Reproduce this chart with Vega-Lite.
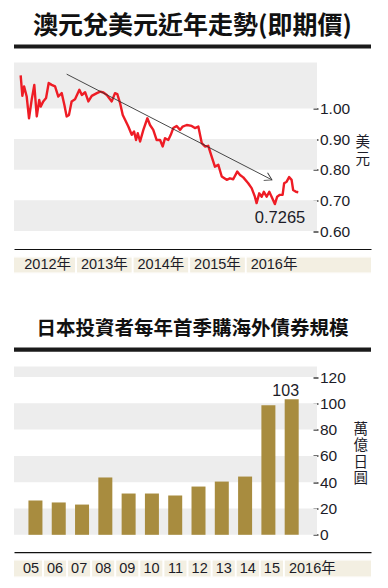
{
  "$schema": "https://vega.github.io/schema/vega-lite/v6.json",
  "padding": {"left": 14, "top": 13.5, "right": 17, "bottom": 8},
  "autosize": {"type": "pad"},
  "background": "white",
  "config": {"view": {"stroke": null}, "axis": {"labelOverlap": false}},
  "bounds": "flush",
  "spacing": 14,
  "vconcat": [
    {
      "width": 357, "height": 4,
      "title": {"text": "澳元兌美元近年走勢(即期價)", "font": "Noto Sans CJK TC", "fontSize": 25, "fontWeight": "bold", "color": "#111111", "anchor": "middle", "offset": 6},
      "data": {"values": [{"bar": "title"}]},
      "mark": {"type": "rect", "color": "#1a1a1a"},
      "encoding": {}
    },
    {
      "width": 303, "height": 180,
      "layer": [
        {
          "data": {"values": [{"lo": 0.6, "hi": 0.7}, {"lo": 0.8, "hi": 0.9}, {"lo": 1.0, "hi": 1.15}]},
          "mark": {"type": "rect", "color": "#ededed"},
          "encoding": {
            "y": {"field": "lo", "type": "quantitative", "scale": {"domain": [0.5625, 1.15], "nice": false, "zero": false},
              "axis": {"orient": "right", "offset": -4, "values": [0.6, 0.7, 0.8, 0.9, 1.0], "format": ".2f", "domain": false, "grid": false,
                "ticks": true, "tickSize": 5, "tickWidth": 1.3, "tickColor": "#222222", "labelOverlap": false,
                "labelFont": "Liberation Sans", "labelFontSize": 15.5, "labelColor": "#1c1c28", "labelPadding": 1.5,
                "title": ["美", "元"], "titleAngle": 0, "titleFont": "Noto Sans CJK TC", "titleFontSize": 14.5, "titleFontWeight": "normal",
                "titleColor": "#1c1c28", "titleAlign": "left", "titleBaseline": "middle", "titleX": 42, "titleY": 80.3, "titleLineHeight": 16.5}},
            "y2": {"field": "hi"}
          }
        },
        {
          "data": {"values": [
            {"date": "2012-01-09", "value": 1.108}, {"date": "2012-01-20", "value": 1.041}, {"date": "2012-01-31", "value": 1.072},
            {"date": "2012-02-17", "value": 1.039}, {"date": "2012-03-03", "value": 0.968}, {"date": "2012-03-20", "value": 1.028},
            {"date": "2012-04-06", "value": 1.077}, {"date": "2012-04-22", "value": 0.974}, {"date": "2012-05-08", "value": 1.028},
            {"date": "2012-05-17", "value": 1.006}, {"date": "2012-06-03", "value": 1.023}, {"date": "2012-06-21", "value": 1.034},
            {"date": "2012-07-08", "value": 1.083}, {"date": "2012-07-27", "value": 1.077}, {"date": "2012-08-18", "value": 1.072},
            {"date": "2012-09-08", "value": 1.039}, {"date": "2012-09-30", "value": 1.05}, {"date": "2012-10-17", "value": 1.012},
            {"date": "2012-11-01", "value": 0.974}, {"date": "2012-11-16", "value": 0.979}, {"date": "2012-12-03", "value": 1.023},
            {"date": "2012-12-25", "value": 1.03}, {"date": "2013-01-22", "value": 1.061}, {"date": "2013-02-07", "value": 1.044},
            {"date": "2013-02-28", "value": 1.053}, {"date": "2013-03-21", "value": 1.023}, {"date": "2013-04-12", "value": 1.041},
            {"date": "2013-05-15", "value": 1.05}, {"date": "2013-06-05", "value": 1.055}, {"date": "2013-06-26", "value": 1.052},
            {"date": "2013-07-18", "value": 1.044}, {"date": "2013-08-19", "value": 1.023}, {"date": "2013-09-09", "value": 1.05},
            {"date": "2013-09-24", "value": 1.047}, {"date": "2013-10-12", "value": 1.017}, {"date": "2013-10-29", "value": 0.979},
            {"date": "2013-11-13", "value": 0.963}, {"date": "2013-12-04", "value": 0.941}, {"date": "2013-12-26", "value": 0.914},
            {"date": "2014-01-10", "value": 0.925}, {"date": "2014-01-23", "value": 0.897}, {"date": "2014-02-03", "value": 0.919},
            {"date": "2014-02-18", "value": 0.892}, {"date": "2014-03-11", "value": 0.93}, {"date": "2014-04-06", "value": 0.968},
            {"date": "2014-04-23", "value": 0.946}, {"date": "2014-05-14", "value": 0.93}, {"date": "2014-06-05", "value": 0.897},
            {"date": "2014-06-27", "value": 0.897}, {"date": "2014-07-14", "value": 0.876}, {"date": "2014-07-29", "value": 0.903},
            {"date": "2014-08-19", "value": 0.897}, {"date": "2014-09-04", "value": 0.914}, {"date": "2014-09-20", "value": 0.936},
            {"date": "2014-10-12", "value": 0.943}, {"date": "2014-11-03", "value": 0.93}, {"date": "2014-11-20", "value": 0.941},
            {"date": "2014-12-16", "value": 0.946}, {"date": "2015-01-17", "value": 0.943}, {"date": "2015-02-07", "value": 0.936},
            {"date": "2015-03-01", "value": 0.941}, {"date": "2015-03-23", "value": 0.887}, {"date": "2015-04-13", "value": 0.876},
            {"date": "2015-05-04", "value": 0.878}, {"date": "2015-05-26", "value": 0.843}, {"date": "2015-06-16", "value": 0.81},
            {"date": "2015-07-08", "value": 0.816}, {"date": "2015-07-30", "value": 0.778}, {"date": "2015-08-31", "value": 0.767},
            {"date": "2015-09-21", "value": 0.772}, {"date": "2015-10-12", "value": 0.769}, {"date": "2015-11-07", "value": 0.794},
            {"date": "2015-11-25", "value": 0.783}, {"date": "2015-12-16", "value": 0.775}, {"date": "2016-01-17", "value": 0.756},
            {"date": "2016-02-08", "value": 0.74}, {"date": "2016-02-29", "value": 0.712}, {"date": "2016-03-11", "value": 0.691},
            {"date": "2016-03-28", "value": 0.723}, {"date": "2016-04-13", "value": 0.712}, {"date": "2016-04-27", "value": 0.728},
            {"date": "2016-05-15", "value": 0.712}, {"date": "2016-06-01", "value": 0.728}, {"date": "2016-06-16", "value": 0.712},
            {"date": "2016-07-07", "value": 0.688}, {"date": "2016-07-22", "value": 0.712}, {"date": "2016-08-08", "value": 0.718},
            {"date": "2016-08-26", "value": 0.718}, {"date": "2016-09-05", "value": 0.756}, {"date": "2016-09-21", "value": 0.761},
            {"date": "2016-10-07", "value": 0.776}, {"date": "2016-10-23", "value": 0.767}, {"date": "2016-11-02", "value": 0.734},
            {"date": "2016-11-20", "value": 0.728}, {"date": "2016-12-05", "value": 0.7265}
          ]},
          "layer": [
            {
              "mark": {"type": "line", "color": "#ee1c25", "strokeWidth": 2.4, "strokeJoin": "round"},
              "encoding": {
                "x": {"field": "date", "type": "temporal", "axis": null,
                  "scale": {"domain": [{"year": 2011, "month": 11, "date": 27, "utc": true}, {"year": 2017, "month": 4, "date": 5, "utc": true}]}},
                "y": {"field": "value", "type": "quantitative"}
              }
            },
            {
              "transform": [{"filter": "datum.value === 0.7265"}],
              "mark": {"type": "text", "font": "Liberation Sans", "fontSize": 16.5, "color": "#1c1c28", "align": "right", "baseline": "alphabetic", "dx": 7, "dy": 31},
              "encoding": {
                "x": {"field": "date", "type": "temporal", "axis": null},
                "y": {"field": "value", "type": "quantitative"},
                "text": {"field": "value", "type": "quantitative", "format": ".4f"}
              }
            }
          ]
        },
        {
          "data": {"values": [{"date": "2012-11-01", "value": 1.112, "end": false}, {"date": "2016-06-18", "value": 0.767, "end": true}]},
          "layer": [
            {
              "mark": {"type": "line", "color": "#333333", "strokeWidth": 0.9},
              "encoding": {
                "x": {"field": "date", "type": "temporal", "axis": null},
                "y": {"field": "value", "type": "quantitative"}
              }
            },
            {
              "transform": [{"filter": "datum.end"}],
              "mark": {"type": "point", "shape": "M -1 -0.6 L 0 0 L -1 0.6", "filled": false, "stroke": "#333333", "strokeWidth": 0.9, "size": 200, "angle": 27.2, "opacity": 1},
              "encoding": {
                "x": {"field": "date", "type": "temporal", "axis": null},
                "y": {"field": "value", "type": "quantitative"}
              }
            }
          ]
        }
      ]
    },
    {
      "width": 357, "height": 17,
      "data": {"values": [
        {"label": "2012年", "start": "2011-06-01", "end": "2013-01-01", "mid": "2012-07-01"},
        {"label": "2013年", "start": "2013-01-01", "end": "2014-01-01", "mid": "2013-07-02"},
        {"label": "2014年", "start": "2014-01-01", "end": "2015-01-01", "mid": "2014-07-02"},
        {"label": "2015年", "start": "2015-01-01", "end": "2016-01-01", "mid": "2015-07-02"},
        {"label": "2016年", "start": "2016-01-01", "end": "2019-01-01", "mid": "2016-07-01"}
      ]},
      "layer": [
        {
          "mark": {"type": "rect", "color": "#f3efe2", "stroke": "white", "strokeWidth": 1.8, "clip": true},
          "encoding": {
            "x": {"field": "start", "type": "temporal",
              "scale": {"domain": [{"year": 2011, "month": 11, "date": 27, "utc": true}, {"year": 2018, "month": 3, "date": 19, "utc": true}]},
              "axis": {"orient": "top", "offset": 7.5, "domain": true, "domainColor": "#111111", "domainWidth": 1.2, "ticks": false, "labels": false, "grid": false, "title": null}},
            "x2": {"field": "end"}
          }
        },
        {
          "mark": {"type": "text", "font": "Liberation Sans, Noto Sans CJK TC", "fontSize": 14.5, "color": "#1c1c28", "baseline": "middle", "align": "center"},
          "encoding": {
            "x": {"field": "mid", "type": "temporal"},
            "text": {"field": "label"}
          }
        }
      ]
    },
    {
      "width": 357, "height": 45.2,
      "data": {"values": []},
      "mark": {"type": "rect", "opacity": 0},
      "encoding": {}
    },
    {
      "width": 357, "height": 4.3,
      "title": {"text": "日本投資者每年首季購海外債券規模", "font": "Noto Sans CJK TC", "fontSize": 19.5, "fontWeight": "bold", "color": "#111111", "anchor": "middle", "offset": 7.7},
      "data": {"values": [{"bar": "title"}]},
      "mark": {"type": "rect", "color": "#1a1a1a"},
      "encoding": {}
    },
    {
      "width": 303, "height": 179,
      "layer": [
        {
          "data": {"values": [{"lo": 0, "hi": 20}, {"lo": 40, "hi": 60}, {"lo": 80, "hi": 100}, {"lo": 120, "hi": 128}]},
          "mark": {"type": "rect", "color": "#ededed"},
          "encoding": {
            "y": {"field": "lo", "type": "quantitative", "scale": {"domain": [-8.13, 128], "nice": false, "zero": false},
              "axis": {"orient": "right", "offset": -4, "values": [0, 20, 40, 60, 80, 100, 120], "format": "d", "domain": false, "grid": false,
                "ticks": true, "tickSize": 5, "tickWidth": 1.3, "tickColor": "#222222", "labelOverlap": false,
                "labelFont": "Liberation Sans", "labelFontSize": 15.5, "labelColor": "#1c1c28", "labelPadding": 1.5,
                "title": ["萬", "億", "日", "圓"], "titleAngle": 0, "titleFont": "Noto Sans CJK TC", "titleFontSize": 14.5, "titleFontWeight": "normal",
                "titleColor": "#1c1c28", "titleAlign": "left", "titleBaseline": "middle", "titleX": 40, "titleY": 62.7, "titleLineHeight": 16.5}},
            "y2": {"field": "hi"}
          }
        },
        {
          "data": {"values": [
            {"year": 2005, "value": 26.1}, {"year": 2006, "value": 24.6}, {"year": 2007, "value": 23.0},
            {"year": 2008, "value": 43.6}, {"year": 2009, "value": 31.4}, {"year": 2010, "value": 31.4},
            {"year": 2011, "value": 29.9}, {"year": 2012, "value": 36.7}, {"year": 2013, "value": 40.5},
            {"year": 2014, "value": 44.3}, {"year": 2015, "value": 98.6}, {"year": 2016, "value": 103}
          ]},
          "layer": [
            {
              "mark": {"type": "bar", "color": "#a88c3f", "width": 14},
              "encoding": {
                "x": {"field": "year", "type": "quantitative", "axis": null, "scale": {"domain": [2004.294, 2016.872], "nice": false, "zero": false}},
                "y": {"field": "value", "type": "quantitative",
                  "axis": {"orient": "right", "offset": -4, "values": [0, 20, 40, 60, 80, 100, 120], "format": "d", "labelOverlap": false,
                    "title": ["萬", "億", "日", "圓"]}}
              }
            },
            {
              "transform": [{"filter": "datum.year === 2016"}],
              "mark": {"type": "text", "font": "Liberation Sans", "fontSize": 16, "color": "#1c1c28", "align": "center", "baseline": "alphabetic", "dx": -6, "dy": -3.5},
              "encoding": {
                "x": {"field": "year", "type": "quantitative", "axis": null},
                "y": {"field": "value", "type": "quantitative",
                  "axis": {"orient": "right", "offset": -4, "values": [0, 20, 40, 60, 80, 100, 120], "format": "d", "labelOverlap": false,
                    "title": ["萬", "億", "日", "圓"]}},
                "text": {"field": "value", "type": "quantitative", "format": "d"}
              }
            }
          ]
        }
      ]
    },
    {
      "width": 357, "height": 18,
      "data": {"values": [
        {"label": "05", "year": 2005, "start": 2004, "end": 2005.5},
        {"label": "06", "year": 2006, "start": 2005.5, "end": 2006.5},
        {"label": "07", "year": 2007, "start": 2006.5, "end": 2007.5},
        {"label": "08", "year": 2008, "start": 2007.5, "end": 2008.5},
        {"label": "09", "year": 2009, "start": 2008.5, "end": 2009.5},
        {"label": "10", "year": 2010, "start": 2009.5, "end": 2010.5},
        {"label": "11", "year": 2011, "start": 2010.5, "end": 2011.5},
        {"label": "12", "year": 2012, "start": 2011.5, "end": 2012.5},
        {"label": "13", "year": 2013, "start": 2012.5, "end": 2013.5},
        {"label": "14", "year": 2014, "start": 2013.5, "end": 2014.5},
        {"label": "15", "year": 2015, "start": 2014.5, "end": 2015.5},
        {"label": "2016年", "year": 2016, "start": 2015.5, "end": 2020}
      ]},
      "layer": [
        {
          "mark": {"type": "rect", "color": "#f3efe2", "stroke": "white", "strokeWidth": 1.8, "clip": true},
          "encoding": {
            "x": {"field": "start", "type": "quantitative",
              "scale": {"domain": [2004.294, 2019.114], "nice": false, "zero": false},
              "axis": {"orient": "top", "offset": 7.4, "domain": true, "domainColor": "#111111", "domainWidth": 1.2, "ticks": false, "labels": false, "grid": false, "title": null}},
            "x2": {"field": "end"}
          }
        },
        {
          "transform": [{"filter": "datum.year < 2016"}],
          "mark": {"type": "text", "font": "Liberation Sans", "fontSize": 14.5, "color": "#1c1c28", "baseline": "middle", "align": "center"},
          "encoding": {
            "x": {"field": "year", "type": "quantitative"},
            "text": {"field": "label"}
          }
        },
        {
          "transform": [{"filter": "datum.year === 2016"}],
          "mark": {"type": "text", "font": "Liberation Sans, Noto Sans CJK TC", "fontSize": 14.5, "color": "#1c1c28", "baseline": "middle", "align": "left", "dx": 5},
          "encoding": {
            "x": {"field": "start", "type": "quantitative"},
            "text": {"field": "label"}
          }
        }
      ]
    }
  ]
}
